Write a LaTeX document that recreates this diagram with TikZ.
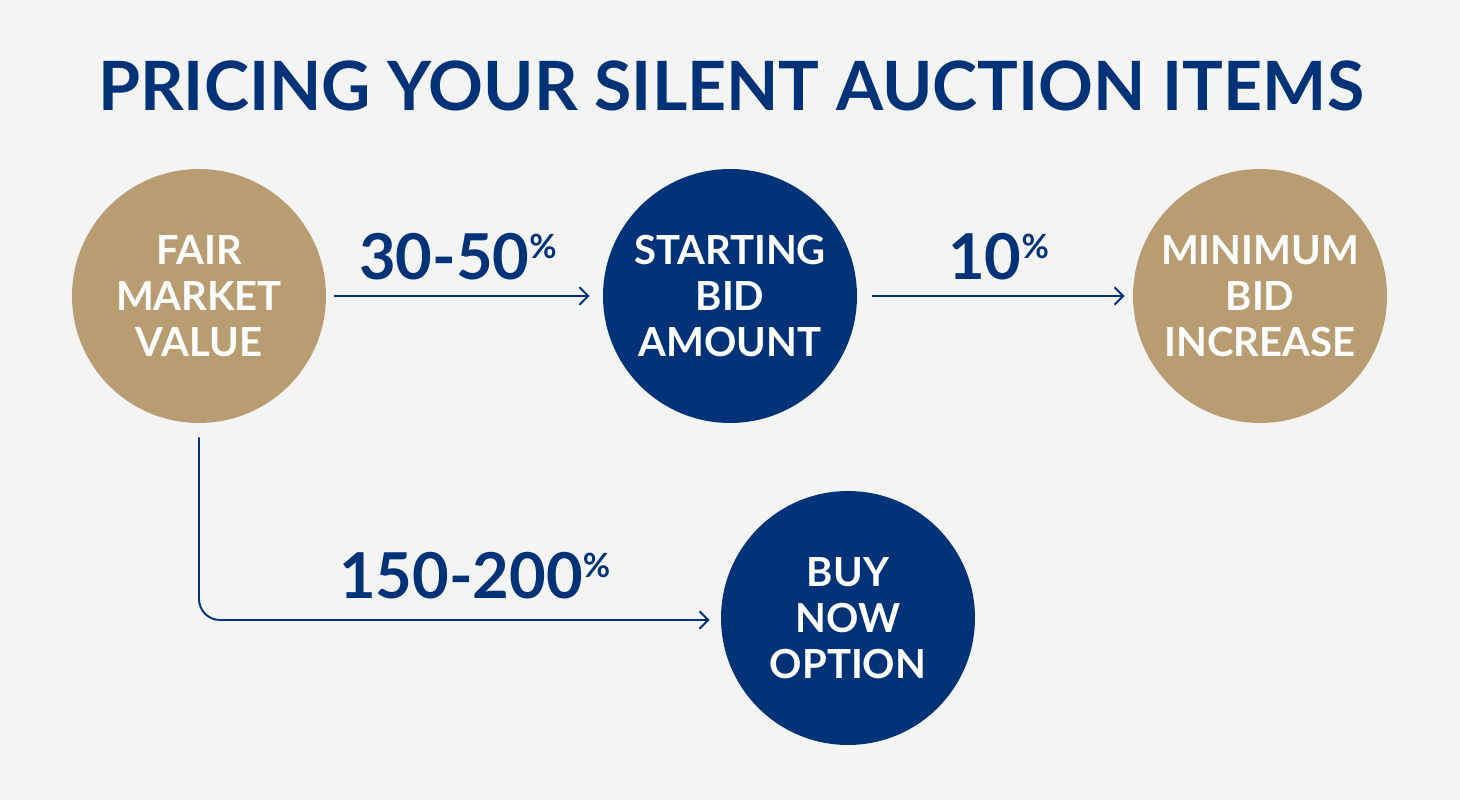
\documentclass[tikz,border=0pt]{standalone}
\usepackage{fontspec}
\setmainfont{Lato}
\usetikzlibrary{arrows.meta}

\definecolor{navy}{HTML}{003278}
\definecolor{gold}{HTML}{B89D72}
\definecolor{paper}{HTML}{F4F4F4}

\tikzset{
  bubble/.style={circle, minimum size=5.08cm, inner sep=0pt, align=center,
                 text=white, font=\fontsize{22.8}{26}\selectfont\bfseries},
  flow/.style={draw=navy, line width=1.1pt, -{Straight Barb[length=5pt,width=10pt]}},
  pct/.style={text=navy, inner sep=0pt, font=\fontsize{36}{40}\selectfont\bfseries}
}

\newcommand{\percent}[1]{#1\raisebox{12pt}{\fontsize{19}{19}\selectfont\%}}

\begin{document}
\begin{tikzpicture}[x=0.02cm, y=-0.02cm]

  \fill [paper] (0,0) rectangle (1460,800);
  \useasboundingbox (0,0) rectangle (1460,800);

  \node [text=navy, font=\fontsize{38.7}{44}\selectfont\bfseries, anchor=base]
        (title) at (731,111) {PRICING YOUR SILENT AUCTION ITEMS};

  %                            x,    y
  \node [bubble, fill=gold] (fmv) at (199,  296) {FAIR\\MARKET\\VALUE};
  \node [bubble, fill=navy] (sba) at (730,  296) {STARTING\\BID\\AMOUNT};
  \node [bubble, fill=gold] (mbi) at (1260, 296) {MINIMUM\\BID\\INCREASE};
  \node [bubble, fill=navy] (buy) at (848,  618) {BUY\\NOW\\OPTION};

  % starting bid and increment
  \draw [flow] ([xshift=0.16cm]fmv.east) -- ([xshift=-0.26cm]sba.west)
        node (pa) [pct, midway, above=0.3cm, xshift=-0.08cm] {\percent{30-50}};
  \draw [flow] ([xshift=0.3cm]sba.east) -- ([xshift=-0.16cm]mbi.west)
        node (pb) [pct, midway, above=0.3cm] {\percent{10}};

  % buy now price
  \draw [flow, rounded corners=0.42cm] ([yshift=-0.28cm]fmv.south)
        |- ([xshift=-0.22cm, yshift=-0.04cm]buy.west)
        node (pc) [pct, pos=0.77, above=0.4cm] {\percent{150-200}};

\end{tikzpicture}
\end{document}
